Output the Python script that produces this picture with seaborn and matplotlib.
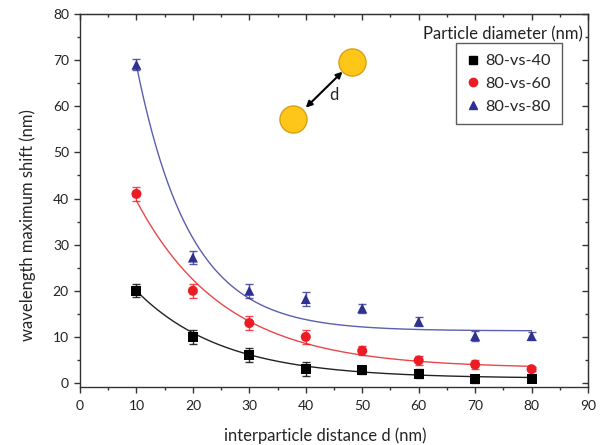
import matplotlib
matplotlib.use("Agg")
import matplotlib.pyplot as plt
import numpy as np
import pandas as pd
import seaborn as sns

# ----------------------
# Data
# ----------------------
distance = [10, 20, 30, 40, 50, 60, 70, 80]

shift_40 = [20, 10, 6, 3, 2.8, 2, 0.8, 0.9]
shift_60 = [41, 20, 13, 10, 7, 4.9, 4, 3]
shift_80 = [69, 27.2, 20, 18.2, 16.2, 13.3, 10.2, 10.2]

err_40 = [1.4, 1.5, 1.5, 1.5, 0.8, 1.0, 0.8, 0.5]
err_60 = [1.5, 1.5, 1.5, 1.5, 1.0, 1.0, 1.0, 0.5]
err_80 = [1.2, 1.5, 1.5, 1.5, 1.0, 1.0, 1.0, 0.8]

# exponential decay fits y = y0 + A*exp(-d/t), parameters
fit_y0 = [1.0, 3.2, 11.3]
fit_A = [36.5, 68.7, 165.0]
fit_t = [15.3, 15.7, 9.5]

series_names = ["80-vs-40", "80-vs-60", "80-vs-80"]
marker_colors = ["#000000", "#ED1C24", "#2E3192"]
line_colors = ["#222222", "#E8474B", "#5A5FAE"]
markers = ["s", "o", "^"]

df = pd.DataFrame(
    {
        "d": distance * 3,
        "shift": shift_40 + shift_60 + shift_80,
        "err": err_40 + err_60 + err_80,
        "pair": [n for n in series_names for _ in distance],
    }
)

# ----------------------
# Plot
# ----------------------
sns.set_style("ticks")
plt.rcParams["font.family"] = ["Lato", "DejaVu Sans"]

fig = plt.figure(figsize=(6.01, 4.45), dpi=100)
ax = fig.add_axes([0.1331, 0.1303, 0.8453, 0.8382])

# fitted curves
xs = np.linspace(min(distance), max(distance), 300)
for y0, A, t, lc in zip(fit_y0, fit_A, fit_t, line_colors):
    ax.plot(xs, y0 + A * np.exp(-xs / t), color=lc, lw=1.0, zorder=2)

# error bars
for name, mc in zip(series_names, marker_colors):
    sub = df[df["pair"] == name]
    ax.errorbar(
        sub["d"], sub["shift"], yerr=sub["err"], fmt="none",
        ecolor=mc, elinewidth=1.0, capsize=3, capthick=1.0, alpha=0.8, zorder=3,
    )

sns.scatterplot(
    data=df, x="d", y="shift", hue="pair", style="pair",
    palette=dict(zip(series_names, marker_colors)),
    markers=dict(zip(series_names, markers)),
    s=52, edgecolor="none", ax=ax, zorder=4, legend=False,
)

# legend (title sits above the box, as in the original)
handles = [
    plt.Line2D([], [], ls="none", marker=m, color=c, markersize=6)
    for m, c in zip(markers, marker_colors)
]
leg = ax.legend(
    handles, series_names, loc="upper left", bbox_to_anchor=(0.740, 0.922),
    frameon=True, fancybox=False, edgecolor="#333333", fontsize=11.8,
    handletextpad=0.35, handlelength=0.8, borderpad=0.65, labelspacing=0.5,
    borderaxespad=0,
)
leg.get_frame().set_linewidth(1.0)
ax.text(0.990, 0.933, "Particle diameter (nm)", transform=ax.transAxes,
        ha="right", va="baseline", fontsize=12, color="#222222")

# dimer sketch
ax.plot([37.8, 48.2], [57.3, 69.6], ls="none", marker="o", markersize=19.5,
        markerfacecolor="#FFC61A", markeredgecolor="#D9A010", zorder=5)
ax.annotate("", xy=(46.5, 67.5), xytext=(40.0, 59.7),
            arrowprops=dict(arrowstyle="<|-|>", color="black", lw=1.5,
                            mutation_scale=9, shrinkA=0, shrinkB=0))
ax.text(44.9, 62.5, "d", fontsize=12, ha="center", va="center")

# axes
ax.set_xlim(0, 90)
ax.set_ylim(-0.87, 80)
ax.set_xticks(range(0, 91, 10))
ax.set_xticks(range(5, 90, 10), minor=True)
ax.set_yticks(range(0, 81, 10))
ax.set_yticks(range(5, 80, 10), minor=True)
ax.set_xlabel("interparticle distance d (nm)", fontsize=12)
ax.set_ylabel("wavelength maximum shift (nm)", fontsize=12)
ax.xaxis.set_label_coords(0.482, -0.108)
ax.yaxis.set_label_coords(-0.087, 0.434)

for s in ax.spines.values():
    s.set_visible(True)
    s.set_color("#333333")
    s.set_linewidth(1.0)
ax.tick_params(axis="both", which="both", direction="out", color="#333333",
               labelsize=10, labelcolor="#222222", width=1.0)
ax.tick_params(axis="x", which="major", length=4.5, pad=5)
ax.tick_params(axis="y", which="major", length=4.5, pad=3.5)
ax.tick_params(which="minor", length=2.5)

# inward ticks on the top and right
ax_top = ax.secondary_xaxis("top")
ax_top.set_xticks(range(0, 91, 10))
ax_top.set_xticks(range(5, 90, 10), minor=True)
ax_top.tick_params(which="both", direction="in", color="#333333", width=1.0)
ax_top.tick_params(which="major", length=4.5)
ax_top.tick_params(which="minor", length=2.5)
ax_top.set_xticklabels([])
ax_right = ax.secondary_yaxis("right")
ax_right.set_yticks(range(0, 81, 10))
ax_right.set_yticks(range(5, 80, 10), minor=True)
ax_right.tick_params(which="both", direction="in", color="#333333", width=1.0)
ax_right.tick_params(which="major", length=4.5)
ax_right.tick_params(which="minor", length=2.5)
ax_right.set_yticklabels([])

fig.savefig("out.png", dpi=100)
